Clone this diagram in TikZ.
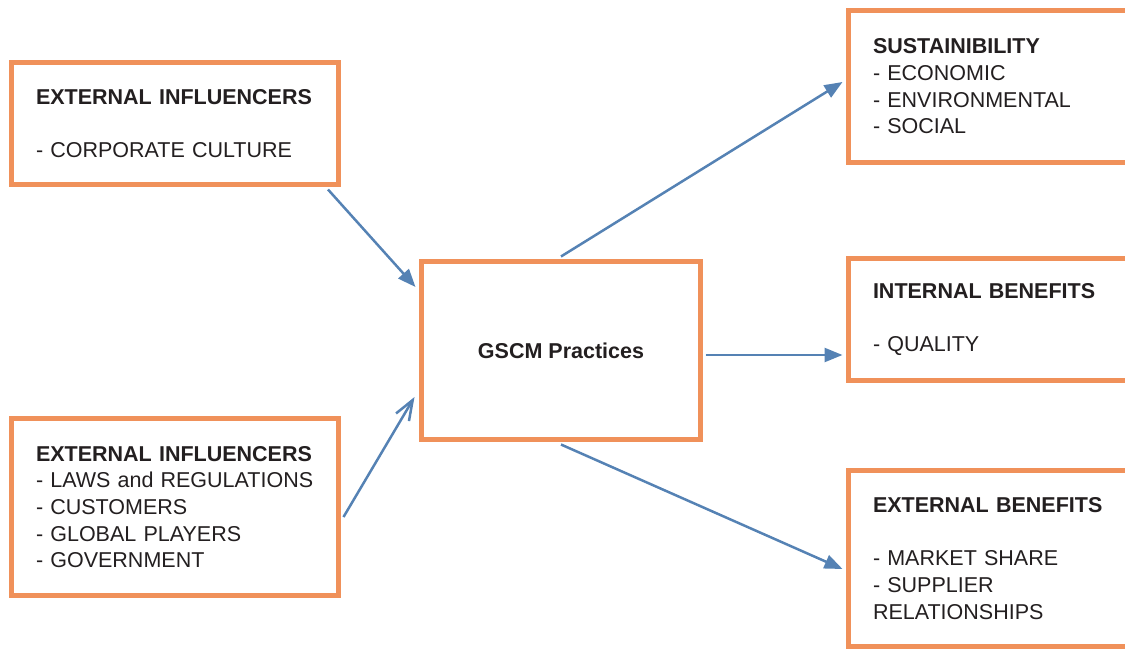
\documentclass[tikz,border=0pt]{standalone}
\usepackage{fontspec}
\setmainfont{Liberation Sans}
\usetikzlibrary{arrows.meta,positioning}
\definecolor{boxorange}{RGB}{240,145,90}
\definecolor{arrblue}{RGB}{85,130,180}
\definecolor{txtgray}{RGB}{35,31,32}

\begin{document}
\begin{tikzpicture}[x=1pt,y=-1pt,on grid,text=txtgray,
  font=\fontsize{21.5}{26.7}\selectfont,
  box/.style={draw=boxorange,line width=5pt,fill=white,inner xsep=24.5pt,inner ysep=0pt,align=left},
  arr/.style={every edge/.style={draw=arrblue,fill=arrblue,line width=2.5pt,-{Triangle[length=18pt,width=14pt]}}},
  open/.style={-{Straight Barb[length=20pt,width=15pt]}}]
\useasboundingbox (0,0) rectangle (1125,650);
\clip (0,0) rectangle (1125,650);
\node[box,minimum width=279pt,minimum height=178pt,align=center] (gscm) at (561,350.5) {\textbf{GSCM Practices}};
\node[box,text width=278pt,minimum height=122pt] (infa) [above left=227pt and 386pt of gscm]
  {\textbf{EXTERNAL INFLUENCERS}\\[26.7pt]- CORPORATE CULTURE};
\node[box,text width=278pt,minimum height=177pt] (infb) [below left=156.5pt and 386pt of gscm]
  {\textbf{EXTERNAL INFLUENCERS}\\- LAWS and REGULATIONS\\- CUSTOMERS\\- GLOBAL PLAYERS\\- GOVERNMENT};
\node[box,text width=242.5pt,minimum height=152pt] (sust) [above right=264pt and 433.25pt of gscm]
  {\textbf{SUSTAINIBILITY}\\- ECONOMIC\\- ENVIRONMENTAL\\- SOCIAL};
\node[box,text width=242.5pt,minimum height=122pt] (intb) [above right=31pt and 433.25pt of gscm]
  {\textbf{INTERNAL BENEFITS}\\[26.7pt]- QUALITY};
\node[box,text width=242.5pt,minimum height=176pt] (extb) [below right=208pt and 433.25pt of gscm]
  {\textbf{EXTERNAL BENEFITS}\\[26.7pt]- MARKET SHARE\\- SUPPLIER\\RELATIONSHIPS};
\path[arr]
([xshift=-13pt,yshift=-2.5pt]infa.south east) edge ([xshift=-3.5pt,yshift=63.5pt]gscm.west)
([xshift=2.5pt,yshift=-10pt]infb.east) edge[open,fill=none] ([xshift=-4.5pt,yshift=-46.5pt]gscm.west)
([yshift=2.5pt]gscm.north) edge ([xshift=-3.5pt,yshift=4.5pt]sust.west)
([xshift=2.5pt,yshift=-4.5pt]gscm.east) edge ([xshift=-3.5pt,yshift=-35.5pt]intb.west)
([yshift=-2.5pt]gscm.south) edge ([xshift=-3.5pt,yshift=-10.5pt]extb.west);
\end{tikzpicture}
\end{document}
